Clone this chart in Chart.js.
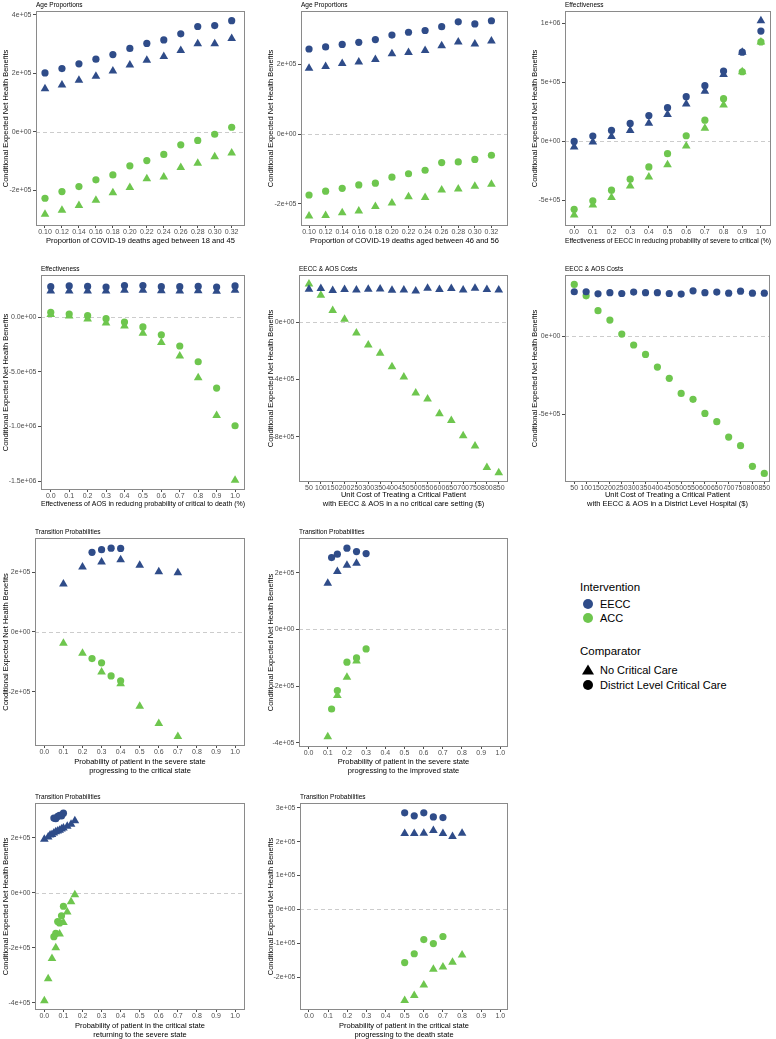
<!DOCTYPE html>
<html>
<head>
<meta charset="utf-8">
<script src="https://cdn.jsdelivr.net/npm/chart.js@4.4.0/dist/chart.umd.min.js"></script>
<style>
  body { margin: 0; background: #fff; width: 776px; height: 1039px; position: relative; overflow: hidden;
         font-family: "Liberation Sans", Arial, sans-serif; }
  canvas { position: absolute; }
  .lg { position: absolute; white-space: nowrap; color: #000; transform: translateY(-50%); }
  .dot { position: absolute; width: 10px; height: 10px; border-radius: 50%; transform: translate(-50%, -50%); }
  .tri { position: absolute; width: 0; height: 0; border-left: 6px solid transparent; border-right: 6px solid transparent;
         border-bottom: 10px solid #000; transform: translate(-50%, -55%); }
</style>
</head>
<body>
<canvas id="p1"></canvas>
<canvas id="p2"></canvas>
<canvas id="p3"></canvas>
<canvas id="p4"></canvas>
<canvas id="p5"></canvas>
<canvas id="p6"></canvas>
<canvas id="p7"></canvas>
<canvas id="p8"></canvas>
<canvas id="p9"></canvas>
<canvas id="p10"></canvas>

<div class="lg" style="left:580px; top:587px; font-size:11.5px;">Intervention</div>
<div class="dot" style="left:588px; top:604px; background:#2F4C89;"></div>
<div class="lg" style="left:600px; top:604px; font-size:11px;">EECC</div>
<div class="dot" style="left:588px; top:618px; background:#6EC64E;"></div>
<div class="lg" style="left:600px; top:618px; font-size:11px;">ACC</div>
<div class="lg" style="left:580px; top:651px; font-size:11.5px;">Comparator</div>
<div class="tri" style="left:588px; top:670px;"></div>
<div class="lg" style="left:600px; top:670px; font-size:11px;">No Critical Care</div>
<div class="dot" style="left:588px; top:685px; background:#000;"></div>
<div class="lg" style="left:600px; top:685px; font-size:11px;">District Level Critical Care</div>

<script>
// tick values and labels
const ageX = [0.10, 0.12, 0.14, 0.16, 0.18, 0.20, 0.22, 0.24, 0.26, 0.28, 0.30, 0.32];
const ageXLabels = ['0.10', '0.12', '0.14', '0.16', '0.18', '0.20', '0.22', '0.24', '0.26', '0.28', '0.30', '0.32'];
const probX = [0.0, 0.1, 0.2, 0.3, 0.4, 0.5, 0.6, 0.7, 0.8, 0.9, 1.0];
const probXLabels = ['0.0', '0.1', '0.2', '0.3', '0.4', '0.5', '0.6', '0.7', '0.8', '0.9', '1.0'];
const costCats = ['50', '100', '150', '200', '250', '300', '350', '400', '450', '500', '550', '600', '650', '700', '750', '800', '850'];
const costX = costCats.map((c, i) => i);

// 1. Age 18-45
const p1EeccDl = [201000, 216000, 232000, 248000, 264000, 285000, 302000, 314000, 335000, 360000, 363000, 380000];
const p1EeccNo = [147000, 160000, 176000, 190000, 208000, 228000, 244000, 257000, 278000, 301000, 301000, 319000];
const p1AccDl = [-228000, -205000, -188000, -165000, -148000, -117000, -99000, -78000, -45000, -30000, -9000, 15000];
const p1AccNo = [-283000, -269000, -253000, -235000, -209000, -191000, -161000, -155000, -123000, -108000, -86000, -73000];

// 2. Age 46-56
const p2EeccDl = [244000, 250000, 257000, 263000, 271000, 284000, 292000, 297000, 308000, 322000, 316000, 325000];
const p2EeccNo = [189000, 194000, 202000, 207000, 214000, 230000, 234000, 240000, 253000, 264000, 258000, 267000];
const p2AccDl = [-175000, -164000, -156000, -146000, -141000, -124000, -114000, -104000, -82000, -80000, -73000, -61000];
const p2AccNo = [-235000, -234000, -226000, -221000, -208000, -198000, -180000, -182000, -161000, -158000, -150000, -144000];

// 3. EECC effectiveness
const p3EeccDl = [0, 45000, 93000, 152000, 219000, 286000, 379000, 472000, 596000, 756000, 935000];
const p3EeccNo = [-48000, -6000, 42000, 93000, 154000, 228000, 317000, 424000, 567000, 756000, 1022000];
const p3AccDl = [-576000, -503000, -413000, -320000, -216000, -104000, 48000, 180000, 362000, 590000, 843000];
const p3AccNo = [-624000, -539000, -475000, -379000, -301000, -197000, -39000, 112000, 309000, 590000, 843000];

// 4. AOS effectiveness
const p4EeccDl = [277000, 284000, 280000, 274000, 287000, 287000, 277000, 277000, 280000, 274000, 284000];
const p4EeccNo = [238000, 238000, 238000, 238000, 244000, 244000, 241000, 238000, 241000, 235000, 244000];
const p4AccDl = [43000, 27000, 12000, -15000, -46000, -91000, -162000, -265000, -409000, -649000, -994000];
const p4AccNo = [24000, 9000, -18000, -55000, -82000, -149000, -232000, -357000, -555000, -899000, -1491000];

// 5. cost, no critical care setting
const p5EeccNo = [231000, 236000, 222000, 229000, 226000, 231000, 233000, 224000, 226000, 219000, 238000, 229000, 236000, 226000, 238000, 229000, 226000];
const p5AccNo = [268000, 189000, 82000, 21000, -75000, -159000, -217000, -310000, -383000, -494000, -536000, -639000, -686000, -793000, -865000, -1015000, -1052000];

// 6. cost, district level hospital
const p6EeccDl = [283000, 283000, 270000, 277000, 272000, 281000, 277000, 277000, 272000, 268000, 289000, 277000, 281000, 274000, 287000, 274000, 274000];
const p6AccDl = [330000, 257000, 162000, 102000, 13000, -57000, -117000, -198000, -270000, -366000, -404000, -494000, -547000, -645000, -700000, -832000, -877000];

// 7. severe -> critical
const p7DlX = [0.25, 0.30, 0.35, 0.40];
const p7NoX = [0.1, 0.2, 0.3, 0.4, 0.5, 0.6, 0.7];
const p7EeccDl = [266000, 275000, 280000, 279000];
const p7EeccNo = [160000, 217000, 234000, 241000, 223000, 201000, 198000];
const p7AccDl = [-89000, -103000, -147000, -163000];
const p7AccNo = [-38000, -71000, -134000, -173000, -248000, -306000, -349000];

// 8. severe -> improved
const p8DlX = [0.12, 0.15, 0.20, 0.25, 0.30];
const p8NoX = [0.10, 0.15, 0.20, 0.25];
const p8EeccDl = [253000, 265000, 286000, 274000, 267000];
const p8EeccNo = [162000, 204000, 226000, 233000];
const p8AccDl = [-281000, -216000, -116000, -101000, -69000];
const p8AccNo = [-379000, -233000, -169000, -112000];

// 9. critical -> severe
const p9DlX = [0.05, 0.06, 0.07, 0.08, 0.09, 0.10];
const p9EeccNoX = [0, 0.02, 0.03, 0.04, 0.05, 0.06, 0.07, 0.08, 0.09, 0.10, 0.12, 0.14, 0.16];
const p9AccNoX = [0, 0.02, 0.04, 0.06, 0.08, 0.10, 0.12, 0.14, 0.16];
const p9EeccDl = [272000, 270000, 278000, 282000, 280000, 290000];
const p9EeccNo = [195000, 203000, 210000, 212000, 218000, 222000, 225000, 228000, 232000, 236000, 242000, 250000, 262000];
const p9AccDl = [-160000, -148000, -105000, -110000, -84000, -49000];
const p9AccNo = [-393000, -313000, -239000, -200000, -150000, -108000, -70000, -33000, -7000];

// 10. critical -> death
const p10DlX = [0.50, 0.55, 0.60, 0.65, 0.70];
const p10NoX = [0.50, 0.55, 0.60, 0.65, 0.70, 0.75, 0.80];
const p10EeccDl = [285000, 276000, 285000, 273000, 271000];
const p10EeccNo = [224000, 224000, 225000, 233000, 224000, 215000, 225000];
const p10AccDl = [-157000, -131000, -89000, -101000, -80000];
const p10AccNo = [-269000, -254000, -223000, -177000, -170000, -156000, -135000];

const BLUE = '#2F4C89';
const GREEN = '#6EC64E';
const FONT = '"Liberation Sans", Arial, sans-serif';
const LH = 1.13;
const TITLE_SIZE = 7.5;
const Y_TITLE = 'Conditional Expected Net Health Benefits';

function pts(xs, ys) {
    return xs.map((x, i) => ({ x: x, y: ys[i] }));
}

// zero line, panel border and panel title
const panelDeco = {
    id: 'panelDeco',
    beforeDatasetsDraw(chart) {
        const { ctx, chartArea: a } = chart;
        const y0 = Math.round(chart.scales.y.getPixelForValue(0)) + 0.5;
        ctx.save();
        ctx.strokeStyle = '#cccccc';
        ctx.lineWidth = 1;
        ctx.setLineDash([4, 3]);
        ctx.beginPath();
        ctx.moveTo(a.left, y0);
        ctx.lineTo(a.right, y0);
        ctx.stroke();
        ctx.restore();
    },
    afterDatasetsDraw(chart, args, opts) {
        const { ctx, chartArea: a } = chart;
        ctx.save();
        ctx.strokeStyle = '#8a8a8a';
        ctx.lineWidth = 1;
        ctx.strokeRect(Math.round(a.left) + 0.5, Math.round(a.top) + 0.5,
            Math.round(a.right - a.left) - 1, Math.round(a.bottom - a.top) - 1);
        ctx.fillStyle = '#000';
        ctx.font = '6.5px ' + FONT;
        ctx.textAlign = 'left';
        ctx.textBaseline = 'middle';
        ctx.fillText(opts.text, a.left, a.top - 5.5);
        ctx.restore();
    }
};

function makePanel(id, p) {
    const [cx, cy, cw, ch] = p.box;
    const [L, T, R, B] = p.plot;
    const cv = document.getElementById(id);
    cv.width = cw;
    cv.height = ch;
    cv.style.left = cx + 'px';
    cv.style.top = cy + 'px';
    const lh = TITLE_SIZE * LH;
    const xLines = Array.isArray(p.xTitle) ? p.xTitle.length : 1;
    const tickFont = { family: FONT, size: 7 };

    new Chart(cv, {
        type: 'scatter',
        data: {
            datasets: p.series.map(s => ({
                data: s.data,
                pointStyle: s.style,
                pointRadius: s.style === 'triangle' ? 5 : 3.6,
                backgroundColor: s.color,
                borderWidth: 0
            }))
        },
        options: {
            responsive: false,
            animation: false,
            events: [],
            layout: { padding: { top: T - cy, right: cx + cw - R, left: 0, bottom: 0 } },
            plugins: {
                legend: { display: false },
                tooltip: { enabled: false },
                panelDeco: { text: p.title }
            },
            scales: {
                x: {
                    type: 'linear',
                    min: p.xMin,
                    max: p.xMax,
                    afterFit: s => { s.height = cy + ch - B; },
                    afterBuildTicks: s => { s.ticks = p.xTicks.map(v => ({ value: v })); },
                    ticks: {
                        callback: (v, i) => p.xLabels[i],
                        autoSkip: false, maxRotation: 0, minRotation: 0,
                        color: '#4D4D4D', font: tickFont, padding: 0
                    },
                    grid: { drawOnChartArea: false, drawTicks: true, tickLength: 2, color: '#4D4D4D' },
                    border: { display: false },
                    title: {
                        display: true, text: p.xTitle, color: '#000',
                        font: { family: FONT, size: TITLE_SIZE, lineHeight: LH },
                        padding: { top: 0, bottom: cy + ch - p.xTitleY - lh / 2 - lh * (xLines - 1) }
                    }
                },
                y: {
                    type: 'linear',
                    min: p.yMin,
                    max: p.yMax,
                    afterFit: s => { s.width = L - cx; },
                    afterBuildTicks: s => { s.ticks = p.yTicks.map(v => ({ value: v })); },
                    ticks: {
                        callback: (v, i) => p.yLabels[i],
                        color: '#4D4D4D', font: tickFont, padding: 1.5
                    },
                    grid: { drawOnChartArea: false, drawTicks: true, tickLength: 3, color: '#4D4D4D' },
                    border: { display: false },
                    title: {
                        display: true, text: Y_TITLE, color: '#000',
                        font: { family: FONT, size: TITLE_SIZE, lineHeight: LH },
                        padding: { top: p.yTitleX - cx - lh / 2, bottom: 0 }
                    }
                }
            }
        },
        plugins: [panelDeco]
    });
}

function four(xNo, xDl, eNo, aNo, eDl, aDl) {
    return [
        { data: pts(xNo, eNo), color: BLUE, style: 'triangle' },
        { data: pts(xNo, aNo), color: GREEN, style: 'triangle' },
        { data: pts(xDl, eDl), color: BLUE, style: 'circle' },
        { data: pts(xDl, aDl), color: GREEN, style: 'circle' }
    ];
}

makePanel('p1', {
    box: [0, 0, 258, 256], plot: [36, 11, 245, 226], title: 'Age Proportions',
    xTitle: 'Proportion of COVID-19 deaths aged between 18 and 45', xTitleY: 241, yTitleX: 6,
    xMin: 0.0894, xMax: 0.3357, yMin: -323000, yMax: 413000,
    xTicks: ageX, xLabels: ageXLabels,
    yTicks: [-200000, 0, 200000, 400000], yLabels: ['-2e+05', '0e+00', '2e+05', '4e+05'],
    series: four(ageX, ageX, p1EeccNo, p1AccNo, p1EeccDl, p1AccDl)
});

makePanel('p2', {
    box: [258, 0, 259, 256], plot: [301, 11, 508, 226], title: 'Age Proportions',
    xTitle: 'Proportion of COVID-19 deaths aged between 46 and 56', xTitleY: 241, yTitleX: 271,
    xMin: 0.0903, xMax: 0.340, yMin: -264000, yMax: 353000,
    xTicks: ageX, xLabels: ageXLabels,
    yTicks: [-200000, 0, 200000], yLabels: ['-2e+05', '0e+00', '2e+05'],
    series: four(ageX, ageX, p2EeccNo, p2AccNo, p2EeccDl, p2AccDl)
});

makePanel('p3', {
    box: [517, 0, 259, 256], plot: [565, 11, 774, 226], title: 'Effectiveness',
    xTitle: 'Effectiveness of EECC in reducing probability of severe to critical (%)', xTitleY: 241, yTitleX: 535,
    xMin: -0.049, xMax: 1.054, yMin: -717000, yMax: 1105000,
    xTicks: probX, xLabels: probXLabels,
    yTicks: [-500000, 0, 500000, 1000000], yLabels: ['-5e+05', '0e+00', '5e+05', '1e+06'],
    series: four(probX, probX, p3EeccNo, p3AccNo, p3EeccDl, p3AccDl)
});

makePanel('p4', {
    box: [0, 258, 258, 257], plot: [41, 275, 245, 490], title: 'Effectiveness',
    xTitle: 'Effectiveness of AOS in reducing probability of critical to death (%)', xTitleY: 504, yTitleX: 6,
    xMin: -0.053, xMax: 1.054, yMin: -1581000, yMax: 384000,
    xTicks: probX, xLabels: probXLabels,
    yTicks: [-1500000, -1000000, -500000, 0], yLabels: ['-1.5e+06', '-1.0e+06', '-5.0e+05', '0.0e+00'],
    series: four(probX, probX, p4EeccNo, p4AccNo, p4EeccDl, p4AccDl)
});

makePanel('p5', {
    box: [258, 258, 259, 257], plot: [299, 275, 508, 482], title: 'EECC & AOS Costs',
    xTitle: ['Unit Cost of Treating a Critical Patient', 'with EECC & AOS in a no critical care setting ($)'],
    xTitleY: 495, yTitleX: 271,
    xMin: -0.84, xMax: 16.78, yMin: -1117000, yMax: 331000,
    xTicks: costX, xLabels: costCats,
    yTicks: [-800000, -400000, 0], yLabels: ['-8e+05', '-4e+05', '0e+00'],
    series: [
        { data: pts(costX, p5EeccNo), color: BLUE, style: 'triangle' },
        { data: pts(costX, p5AccNo), color: GREEN, style: 'triangle' }
    ]
});

makePanel('p6', {
    box: [517, 258, 259, 257], plot: [565, 275, 770, 482], title: 'EECC & AOS Costs',
    xTitle: ['Unit Cost of Treating a Critical Patient', 'with EECC & AOS in a District Level Hospital ($)'],
    xTitleY: 495, yTitleX: 535,
    xMin: -0.78, xMax: 16.48, yMin: -932000, yMax: 390000,
    xTicks: costX, xLabels: costCats,
    yTicks: [-500000, 0], yLabels: ['-5e+05', '0e+00'],
    series: [
        { data: pts(costX, p6EeccDl), color: BLUE, style: 'circle' },
        { data: pts(costX, p6AccDl), color: GREEN, style: 'circle' }
    ]
});

makePanel('p7', {
    box: [0, 518, 258, 258], plot: [35, 538, 245, 746], title: 'Transition Probabilities',
    xTitle: ['Probability of patient in the severe state', 'progressing to the critical state'],
    xTitleY: 762, yTitleX: 6,
    xMin: -0.049, xMax: 1.052, yMin: -381000, yMax: 314000,
    xTicks: probX, xLabels: probXLabels,
    yTicks: [-200000, 0, 200000], yLabels: ['-2e+05', '0e+00', '2e+05'],
    series: four(p7NoX, p7DlX, p7EeccNo, p7AccNo, p7EeccDl, p7AccDl)
});

makePanel('p8', {
    box: [258, 518, 259, 258], plot: [299, 538, 508, 747], title: 'Transition Probabilities',
    xTitle: ['Probability of patient in the severe state', 'progressing to the improved state'],
    xTitleY: 762, yTitleX: 271,
    xMin: -0.05, xMax: 1.04, yMin: -415000, yMax: 322000,
    xTicks: probX, xLabels: probXLabels,
    yTicks: [-400000, -200000, 0, 200000], yLabels: ['-4e+05', '-2e+05', '0e+00', '2e+05'],
    series: four(p8NoX, p8DlX, p8EeccNo, p8AccNo, p8EeccDl, p8AccDl)
});

makePanel('p9', {
    box: [0, 780, 258, 259], plot: [35, 803, 245, 1010], title: 'Transition Probabilities',
    xTitle: ['Probability of patient in the critical state', 'returning to the severe state'],
    xTitleY: 1026, yTitleX: 6,
    xMin: -0.049, xMax: 1.052, yMin: -427000, yMax: 327000,
    xTicks: probX, xLabels: probXLabels,
    yTicks: [-400000, -200000, 0, 200000], yLabels: ['-4e+05', '-2e+05', '0e+00', '2e+05'],
    series: [
        { data: pts(p9EeccNoX, p9EeccNo), color: BLUE, style: 'triangle' },
        { data: pts(p9AccNoX, p9AccNo), color: GREEN, style: 'triangle' },
        { data: pts(p9DlX, p9EeccDl), color: BLUE, style: 'circle' },
        { data: pts(p9DlX, p9AccDl), color: GREEN, style: 'circle' }
    ]
});

makePanel('p10', {
    box: [258, 780, 259, 259], plot: [300, 803, 508, 1010], title: 'Transition Probabilities',
    xTitle: ['Probability of patient in the critical state', 'progressing to the death state'],
    xTitleY: 1026, yTitleX: 271,
    xMin: -0.047, xMax: 1.04, yMin: -297000, yMax: 314000,
    xTicks: probX, xLabels: probXLabels,
    yTicks: [-200000, -100000, 0, 100000, 200000, 300000],
    yLabels: ['-2e+05', '-1e+05', '0e+00', '1e+05', '2e+05', '3e+05'],
    series: four(p10NoX, p10DlX, p10EeccNo, p10AccNo, p10EeccDl, p10AccDl)
});
</script>
</body>
</html>
